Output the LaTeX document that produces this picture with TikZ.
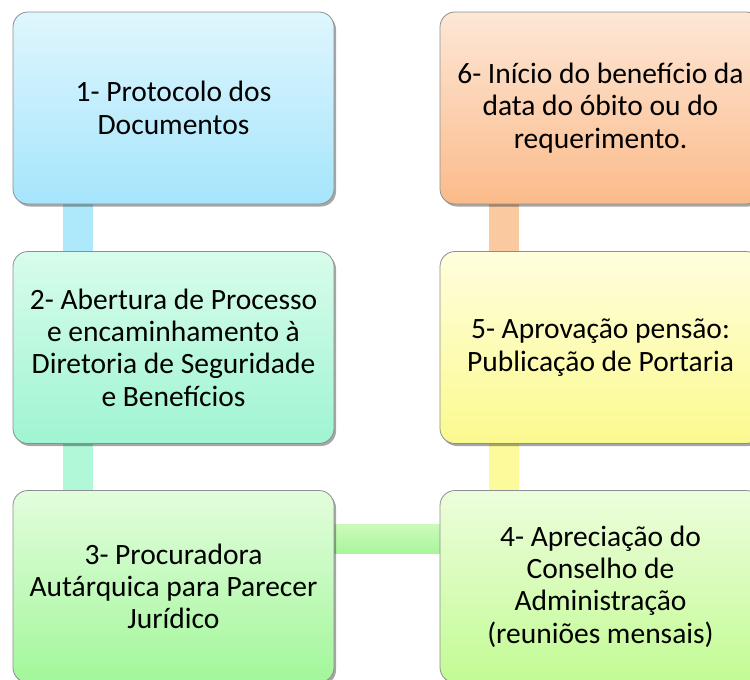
\documentclass[tikz,border=0pt]{standalone}
\usepackage{fontspec}
\setmainfont{Carlito}
\usetikzlibrary{shadows,backgrounds}
\definecolor{bAt}{HTML}{DFF6FD}\definecolor{bAb}{HTML}{A5E5FC}
\definecolor{bBt}{HTML}{D8FCEB}\definecolor{bBb}{HTML}{9FF5D2}
\definecolor{bCt}{HTML}{E3FDDD}\definecolor{bCb}{HTML}{A2F79A}
\definecolor{bDt}{HTML}{EDFDDC}\definecolor{bDb}{HTML}{C2FB94}
\definecolor{bEt}{HTML}{FFFEDD}\definecolor{bEb}{HTML}{FBFA8F}
\definecolor{bFt}{HTML}{FDE7D6}\definecolor{bFb}{HTML}{FBBB8A}
\definecolor{cAB}{HTML}{AEE9FB}
\definecolor{cBC}{HTML}{B0F8D8}
\definecolor{cCDt}{HTML}{CCFABB}\definecolor{cCDb}{HTML}{A9F59B}
\definecolor{cDE}{HTML}{FCFA9A}
\definecolor{cEF}{HTML}{FBC9A0}
\definecolor{edge}{HTML}{8A8F8F}
\tikzset{
  stepbox/.style={draw=edge, line width=0.8pt, rounded corners=15pt,
    minimum width=321pt, minimum height=192pt, align=center,
    font=\fontsize{29.5}{32.3}\selectfont, text=black,
    drop shadow={shadow xshift=2pt, shadow yshift=-2.5pt, opacity=0.35, fill=black}},
  vconn/.style={line width=30pt}
}
\begin{document}
\begin{tikzpicture}[x=1pt,y=-1pt]
\useasboundingbox (0,0) rectangle (750,680);
\clip (0,0) rectangle (750,680);
\node[stepbox, top color=bAt, bottom color=bAb] (b1) at (173.5,108) {1- Protocolo dos\\Documentos};
\node[stepbox, top color=bBt, bottom color=bBb] (b2) at (173.5,347.5) {2- Abertura de Processo\\e encaminhamento à\\Diretoria de Seguridade\\e Benefícios};
\node[stepbox, top color=bCt, bottom color=bCb] (b3) at (173.5,586.5) {3- Procuradora\\Autárquica para Parecer\\Jurídico};
\node[stepbox, top color=bDt, bottom color=bDb] (b4) at (600.5,586.5) {4- Apreciação do\\Conselho de\\Administração\\(reuniões mensais)};
\node[stepbox, top color=bEt, bottom color=bEb] (b5) at (600.5,347.5) {5- Aprovação pensão:\\Publicação de Portaria};
\node[stepbox, top color=bFt, bottom color=bFb] (b6) at (600.5,108) {6- Início do benefício da\\data do óbito ou do\\requerimento.};
\begin{scope}[on background layer]
  \draw[vconn, cAB] ([xshift=-95.5pt]b1.south) -- ([xshift=-95.5pt]b2.north);
  \draw[vconn, cBC] ([xshift=-95.5pt]b2.south) -- ([xshift=-95.5pt]b3.north);
  \draw[vconn, cDE] ([xshift=-96.5pt]b4.north) -- ([xshift=-96.5pt]b5.south);
  \draw[vconn, cEF] ([xshift=-96.5pt]b5.north) -- ([xshift=-96.5pt]b6.south);
  \shade[top color=cCDt, bottom color=cCDb] ([yshift=62pt]b3.east) rectangle ([yshift=33pt]b4.west);
\end{scope}
\end{tikzpicture}
\end{document}
